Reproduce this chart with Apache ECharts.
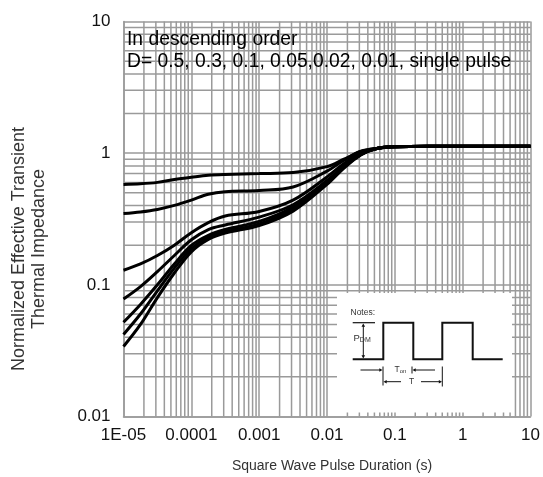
<!DOCTYPE html>
<html>
<head>
<meta charset="utf-8">
<script src="https://cdn.jsdelivr.net/npm/echarts@6/dist/echarts.min.js"></script>
<style>
  html, body { margin: 0; padding: 0; background: #fff; }
  #chart { width: 543px; height: 477px; }
</style>
</head>
<body>
<div id="chart"></div>
<script>
// Square-wave pulse duration (s), shared by all curves
const pulseDuration = [1e-5, 1.78e-5, 3.16e-5, 5.62e-5, 1e-4, 1.78e-4, 3.16e-4, 1e-3, 3.16e-3,
                       1e-2, 1.78e-2, 3.16e-2, 5.62e-2, 0.1, 0.316, 1, 10];

// Normalized effective transient thermal impedance, one list per duty cycle
const zthD050 = [0.578, 0.585, 0.600, 0.630, 0.656, 0.680, 0.690, 0.700, 0.712, 0.790, 0.900, 1.030, 1.090, 1.120, 1.130, 1.130, 1.130];
const zthD030 = [0.348, 0.358, 0.374, 0.401, 0.440, 0.488, 0.510, 0.520, 0.553, 0.730, 0.885, 1.035, 1.090, 1.120, 1.130, 1.130, 1.130];
const zthD010 = [0.129, 0.144, 0.167, 0.200, 0.249, 0.297, 0.333, 0.361, 0.440, 0.660, 0.836, 1.000, 1.090, 1.120, 1.130, 1.130, 1.130];
const zthD005 = [0.078, 0.097, 0.126, 0.167, 0.220, 0.263, 0.285, 0.327, 0.406, 0.620, 0.800, 0.990, 1.090, 1.120, 1.130, 1.130, 1.130];
const zthD002 = [0.052, 0.071, 0.100, 0.144, 0.199, 0.238, 0.263, 0.303, 0.390, 0.605, 0.790, 0.980, 1.090, 1.120, 1.130, 1.130, 1.130];
const zthD001 = [0.042, 0.060, 0.090, 0.134, 0.188, 0.230, 0.253, 0.290, 0.377, 0.595, 0.780, 0.980, 1.090, 1.120, 1.130, 1.130, 1.130];
const zthSingle = [0.034, 0.050, 0.080, 0.123, 0.178, 0.221, 0.247, 0.282, 0.363, 0.580, 0.770, 0.970, 1.090, 1.120, 1.130, 1.130, 1.130];

const curveNames = ['D=0.5', 'D=0.3', 'D=0.1', 'D=0.05', 'D=0.02', 'D=0.01', 'single pulse'];
const curveValues = [zthD050, zthD030, zthD010, zthD005, zthD002, zthD001, zthSingle];

// Axis tick labels (one per decade)
const xTickLabels = ['1E-05', '0.0001', '0.001', '0.01', '0.1', '1', '10'];
const yTickLabels = ['0.01', '0.1', '1', '10'];

const X_MIN = 1e-5, X_MAX = 10, Y_MIN = 0.01, Y_MAX = 10;
const FONT = '"Liberation Sans", Arial, sans-serif';
const GRID_COLOR = '#9a9a9a';
const GRID_WIDTH = 1.5;

// Minor log grid values: 2..9 times each decade between lo and hi exponents
function minorGrid(loExp, hiExp) {
  const out = [];
  for (let e = loExp; e < hiExp; e++) {
    for (let m = 2; m <= 9; m++) out.push(m * Math.pow(10, e));
  }
  return out;
}

// Minor grid lines drawn through the axes' own scales
function gridSeries(values, vertical) {
  return {
    type: 'custom',
    silent: true,
    z: 1,
    clip: false,
    data: values.map(v => vertical ? [v, 1] : [1e-3, v]),
    encode: { x: 0, y: 1 },
    renderItem: (params, api) => {
      let p1, p2;
      if (vertical) {
        const v = api.value(0);
        p1 = api.coord([v, Y_MIN]); p2 = api.coord([v, Y_MAX]);
      } else {
        const v = api.value(1);
        p1 = api.coord([X_MIN, v]); p2 = api.coord([X_MAX, v]);
      }
      return {
        type: 'line',
        shape: { x1: p1[0], y1: p1[1], x2: p2[0], y2: p2[1] },
        style: { stroke: GRID_COLOR, lineWidth: GRID_WIDTH }
      };
    }
  };
}

const series = [gridSeries(minorGrid(-5, 1), true), gridSeries(minorGrid(-2, 1), false)];

curveValues.forEach((vals, i) => {
  series.push({
    name: curveNames[i],
    type: 'line',
    data: pulseDuration.map((t, k) => [t, vals[k]]),
    showSymbol: false,
    smooth: 0.35,
    z: 5,
    lineStyle: { color: '#000', width: 3 },
    emphasis: { disabled: true }
  });
});

// Inset: square-wave notes box
const ink = '#111';
const arrowHead = (tipX, tipY, dir) => {
  const s = 3.2, w = 1.8;
  let pts;
  if (dir === 'r') pts = [[tipX, tipY], [tipX - s, tipY - w], [tipX - s, tipY + w]];
  if (dir === 'l') pts = [[tipX, tipY], [tipX + s, tipY - w], [tipX + s, tipY + w]];
  if (dir === 'u') pts = [[tipX, tipY], [tipX - w, tipY + s], [tipX + w, tipY + s]];
  if (dir === 'd') pts = [[tipX, tipY], [tipX - w, tipY - s], [tipX + w, tipY - s]];
  return { type: 'polygon', z: 101, shape: { points: pts }, style: { fill: ink } };
};
const seg = (x1, y1, x2, y2, w) => ({
  type: 'line', z: 101,
  shape: { x1, y1, x2, y2 },
  style: { stroke: ink, lineWidth: w || 1 }
});

const graphics = [
  // description text
  { type: 'text', left: 127, top: 30, z: 50,
    style: { text: 'In descending order', font: '19.3px ' + FONT, fill: '#000' } },
  { type: 'text', left: 127, top: 52.5, z: 50,
    style: { text: 'D= 0.5, 0.3, 0.1, 0.05,0.02, 0.01, single pulse', font: '19.3px ' + FONT, fill: '#000' } },
  // y-axis title
  { type: 'text', x: 29, y: 249, rotation: Math.PI / 2, z: 50,
    style: { text: 'Normalized Effective Transient\nThermal Impedance', font: '18px ' + FONT,
             fill: '#333', align: 'center', verticalAlign: 'middle', lineHeight: 20 } },
  // x-axis title
  { type: 'text', x: 332, y: 466, z: 50,
    style: { text: 'Square Wave Pulse Duration (s)', font: '14px ' + FONT,
             fill: '#333', align: 'center', verticalAlign: 'middle' } },
  // notes box background
  { type: 'rect', z: 100, shape: { x: 337, y: 293, width: 175, height: 119.5 },
    style: { fill: '#fff' } },
  { type: 'text', x: 350.5, y: 313, z: 101,
    style: { text: 'Notes:', font: '8.5px ' + FONT, fill: '#333', verticalAlign: 'middle' } },
  // waveform
  { type: 'polyline', z: 101,
    shape: { points: [[352.7, 359.3], [383.3, 359.3], [383.3, 322.7], [413.3, 322.7], [413.3, 359.3],
                      [442.3, 359.3], [442.3, 322.7], [472.7, 322.7], [472.7, 359.3], [502.7, 359.3]] },
    style: { stroke: ink, lineWidth: 2, fill: null } },
  // P_DM dimension
  seg(352.7, 322.7, 375, 322.7, 1.2),
  seg(363.3, 326, 363.3, 356, 1),
  arrowHead(363.3, 323.5, 'u'),
  arrowHead(363.3, 358.5, 'd'),
  { type: 'text', x: 353.5, y: 338, z: 101,
    style: { text: '{a|P}{b|DM}', verticalAlign: 'middle', fill: '#333',
             rich: { a: { font: '9.5px ' + FONT, fill: '#333' },
                     b: { font: '7px ' + FONT, fill: '#333', padding: [4, 0, 0, 0] } } } },
  // T_on dimension
  seg(360.5, 370, 381, 370, 1),
  arrowHead(382.5, 370, 'r'),
  seg(383, 366.5, 383, 385.5, 1),
  { type: 'text', x: 400.5, y: 370, z: 101,
    style: { text: '{a|T}{b|on}', align: 'center', verticalAlign: 'middle',
             rich: { a: { font: '8.5px ' + FONT, fill: '#333' },
                     b: { font: '6px ' + FONT, fill: '#333', padding: [3, 0, 0, 0] } } } },
  seg(412, 366.5, 412, 373.5, 1),
  arrowHead(412.5, 370, 'l'),
  seg(414, 370, 435, 370, 1),
  // T dimension
  arrowHead(383.5, 381.7, 'l'),
  seg(385, 381.7, 401, 381.7, 1),
  { type: 'text', x: 411.7, y: 381.7, z: 101,
    style: { text: 'T', font: '8.5px ' + FONT, fill: '#333', align: 'center', verticalAlign: 'middle' } },
  seg(421, 381.7, 440.5, 381.7, 1),
  arrowHead(442, 381.7, 'r'),
  seg(442.3, 366.5, 442.3, 386.5, 1)
];

const option = {
  animation: false,
  backgroundColor: '#fff',
  grid: { left: 123.5, right: 12.5, top: 21.5, bottom: 60.5, containLabel: false },
  xAxis: {
    type: 'log', logBase: 10, min: X_MIN, max: X_MAX,
    axisLine: { show: true, lineStyle: { color: GRID_COLOR, width: GRID_WIDTH } },
    axisTick: { show: false },
    axisLabel: {
      margin: 10, color: '#111', fontFamily: FONT, fontSize: 17,
      formatter: v => xTickLabels[Math.round(Math.log10(v)) + 5]
    },
    splitLine: { show: true, lineStyle: { color: GRID_COLOR, width: GRID_WIDTH } }
  },
  yAxis: {
    type: 'log', logBase: 10, min: Y_MIN, max: Y_MAX,
    axisLine: { show: true, lineStyle: { color: GRID_COLOR, width: GRID_WIDTH } },
    axisTick: { show: false },
    axisLabel: {
      margin: 13, color: '#111', fontFamily: FONT, fontSize: 17,
      formatter: v => yTickLabels[Math.round(Math.log10(v)) + 2]
    },
    splitLine: { show: true, lineStyle: { color: GRID_COLOR, width: GRID_WIDTH } }
  },
  series: series,
  graphic: graphics
};

const chart = echarts.init(document.getElementById('chart'), null, { renderer: 'canvas' });
chart.setOption(option);
</script>
</body>
</html>
